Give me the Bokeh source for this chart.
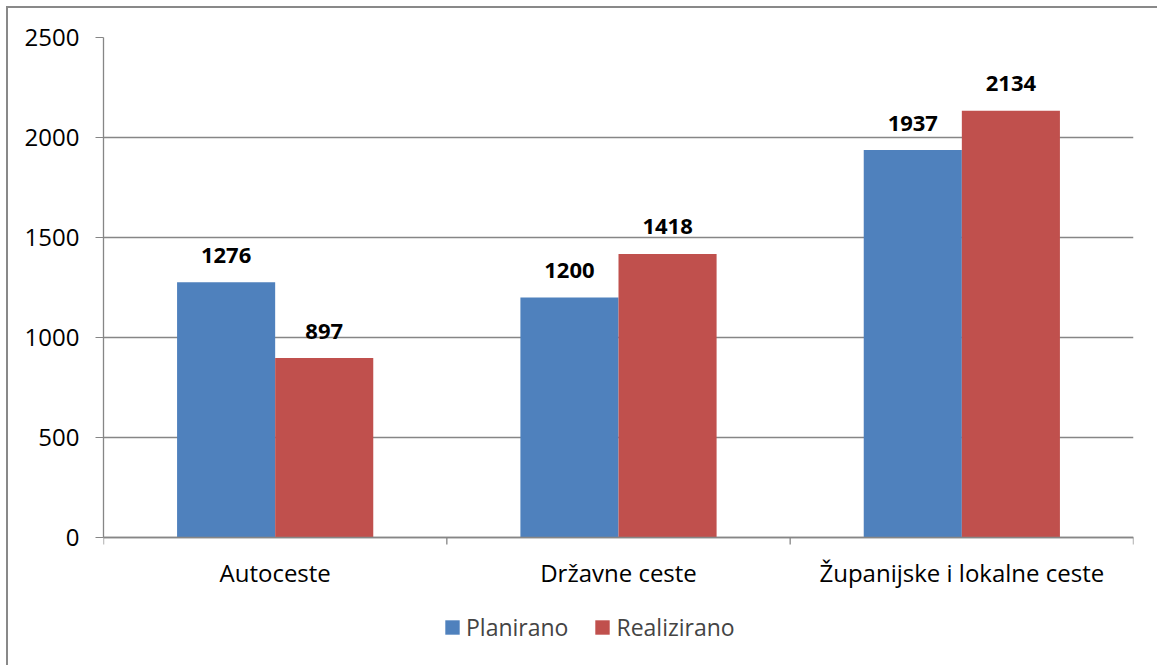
import numpy as np
from bokeh.plotting import figure
from bokeh.models import ColumnDataSource, FixedTicker, Legend, LegendItem
from bokeh.transform import dodge
from bokeh.core.properties import value
from bokeh.embed import file_html
from bokeh.resources import INLINE

categories = ["Autoceste", "Državne ceste", "Županijske i lokalne ceste"]
planirano = [1276, 1200, 1937]
realizirano = [897, 1418, 2134]
y_ticks = [0, 500, 1000, 1500, 2000, 2500]

BLUE = "#4F81BD"
RED = "#C0504D"
GRID = "#868686"
FONT = "Open Sans"

Y_MAX = 2500
PX_PER_UNIT = 500 / Y_MAX          # 500 px for the value axis
Y_LO = -640                          # room below zero for category labels and legend
frame_h = int(round((Y_MAX - Y_LO) * PX_PER_UNIT))
tick_len = 7 / PX_PER_UNIT           # 7 px category ticks

n = len(categories)
pos = np.arange(n) + 0.5
src = ColumnDataSource(dict(
    x=pos, cat=categories, zero=[0] * n, plan=planirano, real=realizirano,
    plan_txt=[str(v) for v in planirano], real_txt=[str(v) for v in realizirano],
))
bounds = np.arange(n + 1)
tsrc = ColumnDataSource(dict(x=bounds, y0=[0] * (n + 1), y1=[-tick_len] * (n + 1)))

bw = 1 / 3.5
p = figure(width=1150, height=29 + frame_h, frame_width=1030, frame_height=frame_h,
           x_range=(0, n), y_range=(Y_LO, Y_MAX),
           output_backend="svg", toolbar_location=None,
           min_border_left=95, min_border_top=29, min_border_right=24, min_border_bottom=0)
p.styles = {"border-left": "2px solid #898989", "border-top": "2px solid #898989",
            "margin-left": "6px", "margin-top": "6px"}
p.outline_line_color = None
p.background_fill_color = "white"
p.xaxis.visible = False

r1 = p.vbar(x=dodge("x", -bw / 2, range=p.x_range), top="plan", width=bw, source=src,
            fill_color=BLUE, line_color=None)
r2 = p.vbar(x=dodge("x", bw / 2, range=p.x_range), top="real", width=bw, source=src,
            fill_color=RED, line_color=None)

for col, off in (("plan", -bw / 2), ("real", bw / 2)):
    p.text(x=dodge("x", off, range=p.x_range), y=col, text=col + "_txt", source=src,
           text_align="center", text_baseline="alphabetic", y_offset=-27,
           text_font=value(FONT), text_font_style="bold", text_font_size="22px",
           text_color="black")

# category axis (drawn inside the extended frame)
p.segment(x0=0, y0=0, x1=n, y1=0, line_color=GRID, line_width=1.3)
p.segment(x0="x", y0="y0", x1="x", y1="y1", source=tsrc, line_color=GRID, line_width=1.3)
p.text(x="x", y="zero", text="cat", source=src, text_align="center", text_baseline="middle",
       y_offset=35, text_font=value(FONT), text_font_size="24px", text_color="black")

# value axis
p.xgrid.grid_line_color = None
p.ygrid.grid_line_color = GRID
p.ygrid.grid_line_width = 1.3
p.ygrid.bounds = (0, Y_MAX)

p.yaxis.ticker = FixedTicker(ticks=y_ticks, minor_ticks=[])
p.yaxis.bounds = (0, Y_MAX)
p.yaxis.axis_line_color = GRID
p.yaxis.axis_line_width = 1.3
p.yaxis.major_tick_line_color = GRID
p.yaxis.major_tick_out = 8
p.yaxis.major_tick_in = 0
p.yaxis.major_label_standoff = 16
p.yaxis.major_label_text_font = FONT
p.yaxis.major_label_text_font_size = "24px"
p.yaxis.major_label_text_color = "black"

legend = Legend(items=[LegendItem(label="Planirano", renderers=[r1]),
                       LegendItem(label="Realizirano", renderers=[r2])],
                orientation="horizontal", location=(340, 22),
                label_text_font=FONT, label_text_font_size="23px",
                glyph_width=18, glyph_height=18, spacing=25, label_standoff=5,
                border_line_color=None, background_fill_alpha=0, margin=0, padding=4)
p.add_layout(legend, "center")

open("out.html", "w").write(file_html(p, INLINE))
